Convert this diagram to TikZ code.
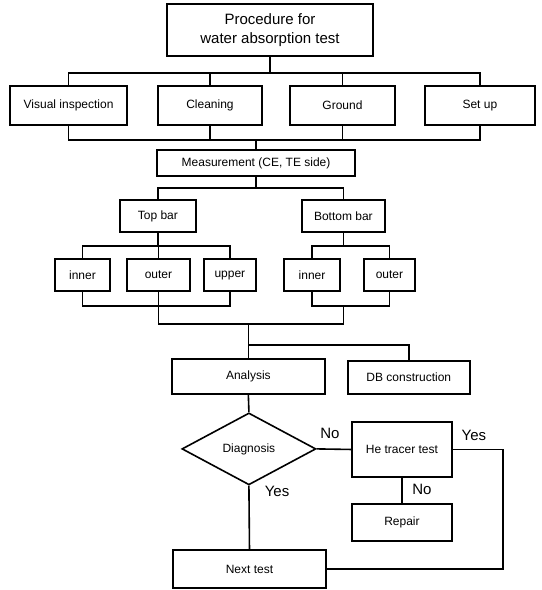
\documentclass[tikz,border=0pt]{standalone}
\usepackage{fontspec}
\setmainfont{Liberation Sans}
\usetikzlibrary{positioning, shapes.geometric}

\begin{document}
\begin{tikzpicture}[
    box/.style={rectangle, draw=black, line width=1.6pt, inner sep=2pt, align=center, font=\fontsize{12}{14}\selectfont},
    titlebox/.style={rectangle, draw=black, line width=1.6pt, minimum width=7.24cm, minimum height=1.83cm, align=center, font=\fontsize{15}{19}\selectfont},
    decision/.style={diamond, draw=black, line width=1.6pt, inner sep=0pt, aspect=1.86, minimum width=4.71cm, minimum height=2.53cm, font=\fontsize{12}{14}\selectfont},
    link/.style={line width=1.6pt},
    answer/.style={font=\fontsize{15}{17}\selectfont}
]
\useasboundingbox (0,0) rectangle (19.02,-20.74);

% Titel
\node[titlebox] (proc) at (9.49,-1.05) {Procedure for \\ water absorption test};

% Vorbereitung
\node[box, minimum width=4.11cm, minimum height=1.37cm] (visual) at (2.41,-3.71) {Visual inspection};
\node[box, minimum width=3.66cm, minimum height=1.37cm] (clean) at (7.38,-3.71) {Cleaning};
\node[box, minimum width=3.69cm, minimum height=1.37cm] (ground) at (12.04,-3.71) {Ground};
\node[box, minimum width=3.87cm, minimum height=1.37cm] (setup) at (16.87,-3.71) {Set up};

\coordinate (bus1) at (0,-2.57);
\coordinate (bus2) at (0,-4.92);

\draw[link] (proc.south) -- (proc.south |- bus1);
\draw[link] (visual.north) -- (visual.north |- bus1) -- (setup.north |- bus1) -- (setup.north);
\draw[link] (clean.north) -- (clean.north |- bus1);
\draw[link] (ground.north) -- (ground.north |- bus1);

\draw[link] (visual.south) -- (visual.south |- bus2) -- (setup.south |- bus2) -- (setup.south);
\draw[link] (clean.south) -- (clean.south |- bus2);
\draw[link] (ground.south) -- (ground.south |- bus2);

% Messung
\node[box, minimum width=6.96cm, minimum height=0.91cm] (meas) at (9.00,-5.73) {Measurement (CE, TE side)};
\draw[link] (meas.north) -- (meas.north |- bus2);

\node[box, minimum width=2.67cm, minimum height=1.12cm] (topbar) at (5.55,-7.59) {Top bar};
\node[box, minimum width=2.92cm, minimum height=1.12cm] (botbar) at (12.07,-7.59) {Bottom bar};

\coordinate (bus3) at (0,-6.61);
\draw[link] (meas.south) -- (meas.south |- bus3);
\draw[link] (topbar.north) -- (topbar.north |- bus3) -- (botbar.north |- bus3) -- (botbar.north);

% Messstellen
\node[box, minimum width=1.93cm, minimum height=1.12cm] (inner1) at (2.90,-9.67) {inner};
\node[box, minimum width=2.21cm, minimum height=1.12cm] (outer1) at (5.57,-9.67) {outer};
\node[box, minimum width=1.83cm, minimum height=1.12cm] (upper) at (8.08,-9.67) {upper};
\node[box, minimum width=1.97cm, minimum height=1.12cm] (inner2) at (10.97,-9.67) {inner};
\node[box, minimum width=1.79cm, minimum height=1.12cm] (outer2) at (13.69,-9.67) {outer};

\coordinate (bus4) at (0,-8.65);
\coordinate (bus5) at (0,-10.75);
\coordinate (join) at (0,-11.39);

\draw[link] (topbar.south) -- (topbar.south |- bus4);
\draw[link] (inner1.north) -- (inner1.north |- bus4) -- (upper.north |- bus4) -- (upper.north);
\draw[link] (outer1.north) -- (outer1.north |- bus4);
\draw[link] (botbar.south) -- (botbar.south |- bus4);
\draw[link] (inner2.north) -- (inner2.north |- bus4) -- (outer2.north |- bus4) -- (outer2.north);

\draw[link] (inner1.south) -- (inner1.south |- bus5) -- (upper.south |- bus5) -- (upper.south);
\draw[link] (inner2.south) -- (inner2.south |- bus5) -- (outer2.south |- bus5) -- (outer2.south);
\draw[link] (outer1.south) -- (outer1.south |- join) -- (botbar.south |- join) -- (botbar.south |- bus5);

% Auswertung
\node[box, minimum width=5.38cm, minimum height=1.23cm] (analysis) at (8.73,-13.23) {Analysis};
\node[box, minimum width=4.29cm, minimum height=1.16cm] (db) at (14.37,-13.27) {DB construction};

\coordinate (fork) at (8.73,-12.13);
\draw[link] (analysis.north) -- (analysis.north |- join);
\draw[link] (fork) -| (db.north);

% Diagnose
\node[decision] (diag) at (8.75,-15.78) {Diagnosis};
\node[box, minimum width=3.51cm, minimum height=1.93cm] (tracer) at (14.13,-15.80) {He tracer test};
\node[box, minimum width=3.51cm, minimum height=1.30cm] (repair) at (14.13,-18.36) {Repair};
\node[box, minimum width=5.38cm, minimum height=1.34cm] (next) at (8.77,-20.00) {Next test};

\coordinate (loop) at (17.68,-15.80);

\draw[link] (analysis.south) -- (diag.north);
\draw[link] (diag.east) -- (tracer.west);
\draw[link] (diag.south) -- (next.north);
\draw[link] (tracer.south) -- (repair.north);
\draw[link] (tracer.east) -- (loop) |- (next.east);

% Antworten
\node[answer] (no1) at (11.60,-15.22) {No};
\node[answer] (yes1) at (16.66,-15.29) {Yes};
\node[answer] (no2) at (14.83,-17.19) {No};
\node[answer] (yes2) at (9.74,-17.29) {Yes};

\end{tikzpicture}
\end{document}
